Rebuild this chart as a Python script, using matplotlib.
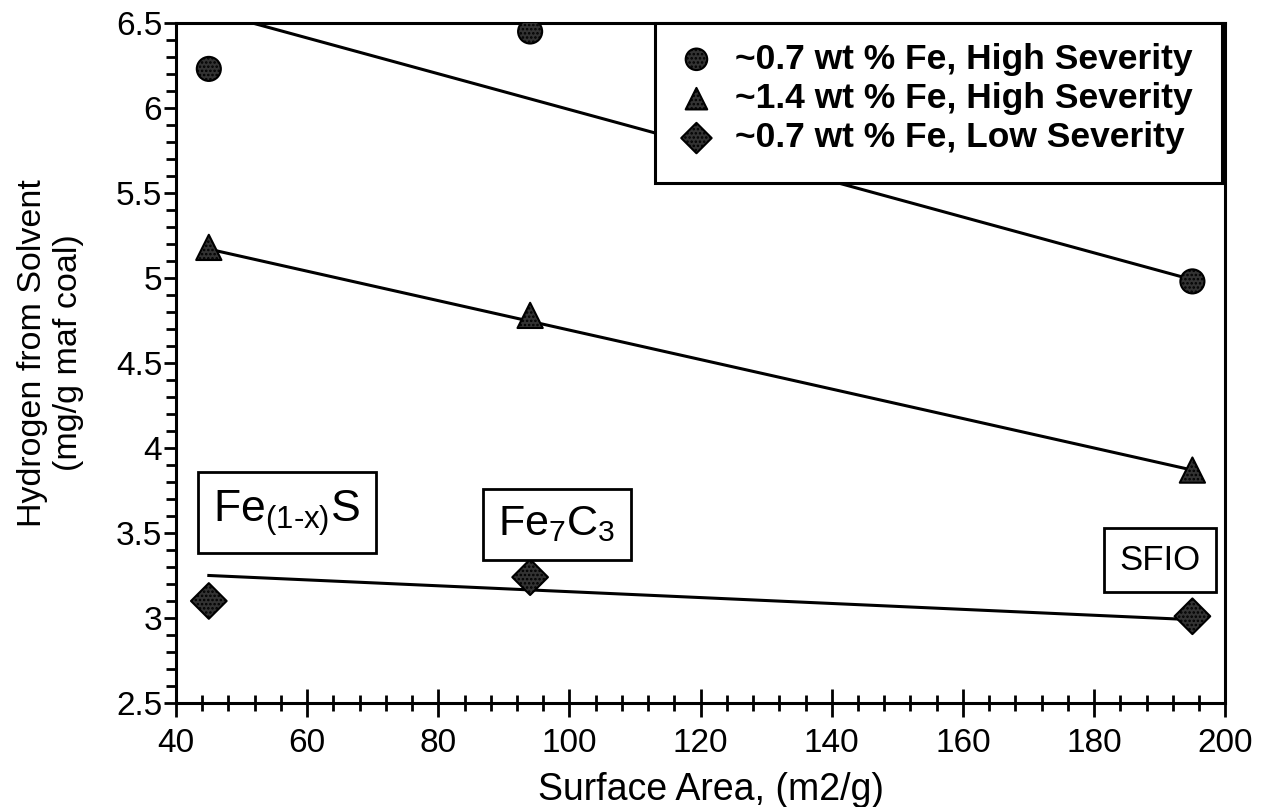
import matplotlib
matplotlib.use("Agg")
import matplotlib.pyplot as plt
from matplotlib.patches import Rectangle
from matplotlib.ticker import MultipleLocator, FuncFormatter

plt.rcParams["font.family"] = ["Liberation Sans", "DejaVu Sans"]
plt.rcParams["mathtext.fontset"] = "custom"
plt.rcParams["mathtext.rm"] = "Liberation Sans"
plt.rcParams["mathtext.it"] = "Liberation Sans"
plt.rcParams["hatch.color"] = "white"
plt.rcParams["hatch.linewidth"] = 1.2

# surface area of the three catalysts (m2/g)
surface_area = [45, 94, 195]
catalysts = ["Fe$_{\\mathregular{(1\u2010x)}}$S",
             r"Fe$_{\mathregular{7}}$C$_{\mathregular{3}}$",
             "SFIO"]

# hydrogen from solvent (mg/g maf coal)
h_07_high = [6.23, 6.45, 4.98]
h_14_high = [5.18, 4.78, 3.87]
h_07_low = [3.10, 3.24, 3.01]

# straight trend lines, values at both ends
trend_x = [45, 195]
trend_07_high = [6.57, 4.99]
trend_14_high = [5.17, 3.87]
trend_07_low = [3.25, 2.99]

labels = ["~0.7 wt % Fe, High Severity",
          "~1.4 wt % Fe, High Severity",
          "~0.7 wt % Fe, Low Severity"]

fig = plt.figure(figsize=(12.61, 8.07), dpi=100)
ax = fig.add_axes([0.1396, 0.1289, 0.832, 0.8426])

for tv in (trend_07_high, trend_14_high, trend_07_low):
    ax.plot(trend_x, tv, color="black", lw=2.2, zorder=2)

style = dict(facecolor="#333333", edgecolor="black", linewidths=1.5,
             hatch="....", zorder=3)
ax.scatter(surface_area, h_07_high, marker="o", s=300, label=labels[0], **style)
ax.scatter(surface_area, h_14_high, marker="^", s=330, label=labels[1], **style)
ax.scatter(surface_area, h_07_low, marker="D", s=330, label=labels[2], **style)

# catalyst name boxes
box = dict(boxstyle="square,pad=0.35", facecolor="white", edgecolor="black", lw=2)
ax.text(56.9, 3.62, catalysts[0], fontsize=32, ha="center", va="center", bbox=box)
ax.text(98.1, 3.55, catalysts[1], fontsize=31, ha="center", va="center", bbox=box)
ax.text(190.1, 3.34, catalysts[2], fontsize=25, ha="center", va="center",
        bbox=dict(box, boxstyle="square,pad=0.45"))

ax.set_xlim(40, 200)
ax.set_ylim(2.5, 6.5)
ax.xaxis.set_major_locator(MultipleLocator(20))
ax.xaxis.set_minor_locator(MultipleLocator(4))
ax.yaxis.set_major_locator(MultipleLocator(0.5))
ax.yaxis.set_minor_locator(MultipleLocator(0.1))
ax.yaxis.set_major_formatter(FuncFormatter(lambda v, p: f"{v:g}"))

ax.tick_params(axis="x", which="major", direction="inout", length=20, width=2,
               labelsize=24, pad=8)
ax.tick_params(axis="x", which="minor", direction="inout", length=12, width=2)
ax.tick_params(axis="y", which="major", direction="out", length=9, width=2,
               labelsize=24, pad=1)
ax.tick_params(axis="y", which="minor", direction="out", length=7, width=2)

for sp in ax.spines.values():
    sp.set_linewidth(2.2)

ax.set_xlabel("Surface Area, (m2/g)", fontsize=27)
ax.xaxis.set_label_coords(0.51, -0.128)
ax.xaxis.label.set_va("center")
ax.set_ylabel("Hydrogen from Solvent\n(mg/g maf coal)", fontsize=24.5,
              linespacing=1.2)
ax.yaxis.set_label_coords(-0.12, 0.515)
ax.yaxis.label.set_va("center")

# legend frame and entries
ax.add_patch(Rectangle((0.4566, 0.7647), 0.5405, 0.2353, transform=ax.transAxes,
                       facecolor="white", edgecolor="black", lw=2.2, zorder=4,
                       clip_on=False))
leg = ax.legend(loc="center left", bbox_to_anchor=(0.480, 0.889), frameon=False,
                prop={"weight": "bold", "size": 25.5}, handlelength=0.95,
                handletextpad=0.6, labelspacing=0.18, borderpad=0,
                borderaxespad=0, scatterpoints=1)
leg.set_zorder(5)
for h in leg.legend_handles:
    h.set_sizes([240])

fig.savefig("out.png", dpi=100, facecolor="white")
